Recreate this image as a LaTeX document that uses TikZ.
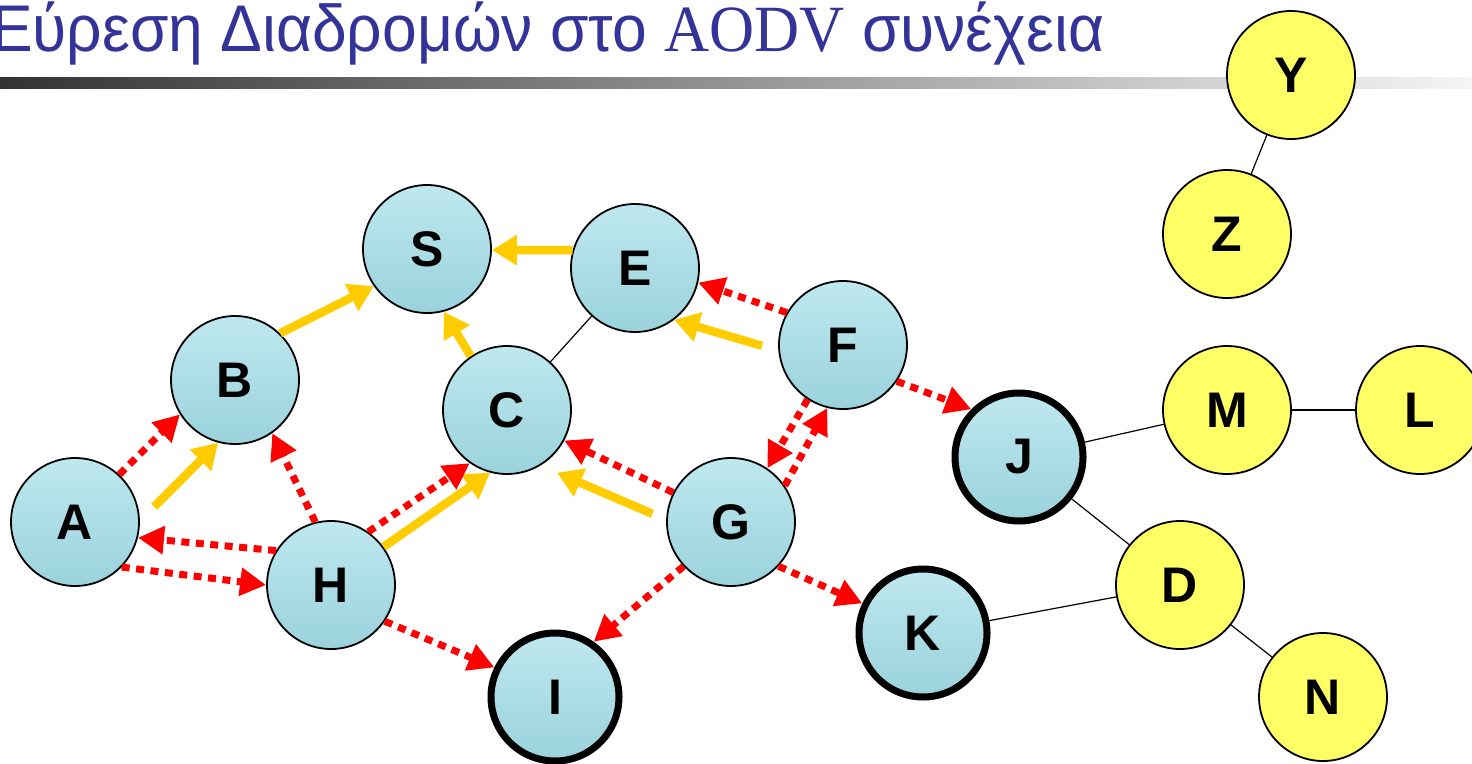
\documentclass[tikz,border=0pt]{standalone}
\usepackage{fontspec}
\setmainfont{Liberation Sans}
\newfontfamily\serifpart{Liberation Serif}
\usepackage{xcolor}
\usetikzlibrary{arrows.meta}

\definecolor{headblue}{HTML}{333399}
\definecolor{dropA}{HTML}{BFE8EF}
\definecolor{dropB}{HTML}{9AD2DC}
\definecolor{outside}{HTML}{FFFF66}
\definecolor{revgold}{HTML}{FFCC00}

\begin{document}
\begin{tikzpicture}[x=1pt,y=-1pt,
	host/.style={circle,draw,line width=1.8pt,minimum size=128pt,inner sep=0pt,
		top color=dropA,bottom color=dropB,font=\fontsize{50}{50}\selectfont\bfseries},
	known/.style={host,line width=7pt},
	far/.style={circle,draw,line width=1.8pt,minimum size=128pt,inner sep=0pt,
		fill=outside,font=\fontsize{50}{50}\selectfont\bfseries},
	rreq/.style={red,line width=7pt,dash pattern=on 8pt off 6.5pt,
		-{Triangle[length=26pt,width=27pt]}},
	rev/.style={revgold,line width=8.5pt,-{Triangle[length=25pt,width=29pt]}}]
	\useasboundingbox (0,0) rectangle (1472,763);
	\fill[white] (0,0) rectangle (1472,763);
	% heading and bar
	\node[anchor=base west,inner sep=0pt,text=headblue,xscale=0.945,
		font=\fontsize{66}{66}\selectfont]
		(head) at (-9,51) {Εύρεση Διαδρομών στο {\serifpart AODV} συνέχεια};
	\shade[left color=black!80,right color=black!4] (0,77) rectangle (1472,88);
	%
	\node[host] (S) at (427,249) {S};
	\node[host] (E) at (635,268) {E};
	\node[host] (F) at (843,345) {F};
	\node[host] (B) at (235,380) {B};
	\node[host] (C) at (507,410) {C};
	\node[host] (A) at (75,522) {A};
	\node[host] (G) at (731,522) {G};
	\node[host] (H) at (331,585) {H};
	\node[known] (J) at (1019,457) {J};
	\node[known] (K) at (923,633) {K};
	\node[known] (I) at (555,697) {I};
	\node[far] (Y) at (1291,75) {Y};
	\node[far] (Z) at (1227,234) {Z};
	\node[far] (M) at (1227,410) {M};
	\node[far] (L) at (1420,410) {L};
	\node[far] (D) at (1180,585) {D};
	\node[far] (N) at (1323,697) {N};
	%
	\path[draw,line width=1.2pt]
		(C) edge (E)
		(Y) edge (Z)
		(J) edge (M)
		(M) edge (L)
		(J) edge (D)
		(K) edge (D)
		(D) edge (N);
	%
	\path[rev]
		(A.1) edge[shorten <=20pt] (B.255)
		(B.46) edge (S.215)
		(E.164) edge (S.359)
		(C.124) edge (S.285)
		(F.185) edge[shorten <=17pt] (E.307)
		(H.36) edge (C.255)
		(G.178) edge[shorten <=15pt,shorten >=18pt] (C.301);
	%
	\path[rreq]
		(A.47) edge (B.212)
		(H.148) edge (A.346)
		(A.316) edge (H.180)
		(H.104) edge (B.305)
		(H.55) edge (C.235)
		(H.326) edge (I.154)
		(G.153) edge (C.332)
		(F.150) edge (E.347)
		(F.326) edge (J.135)
		(F.237) edge (G.56)
		(G.34) edge (F.256)
		(G.223) edge (I.55)
		(G.317) edge (K.154);
\end{tikzpicture}
\end{document}
